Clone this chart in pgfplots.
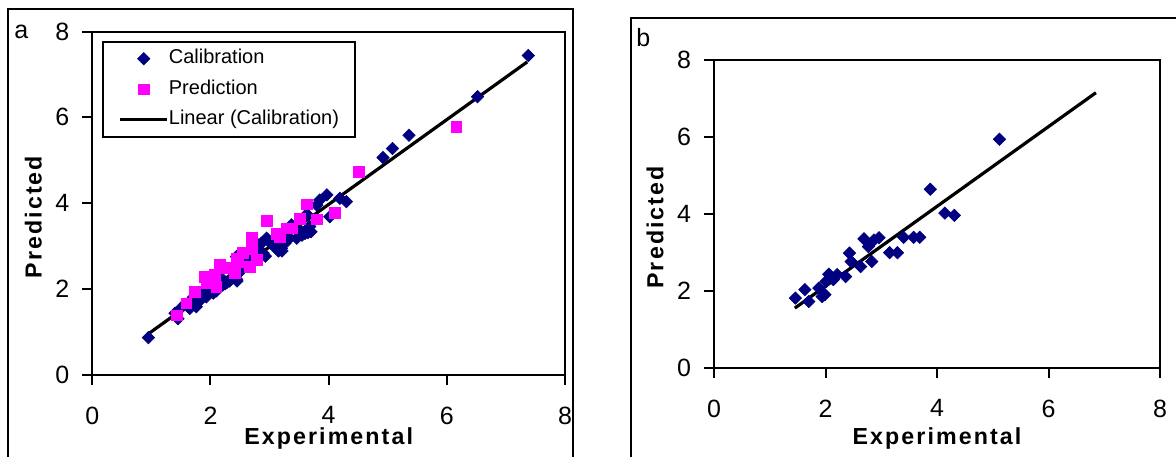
\documentclass[border=0pt]{standalone}
\usepackage{fontspec}
\setmainfont{Liberation Sans}
\usepackage{pgfplots}
\usepackage{pgfplotstable}
\pgfplotsset{compat=1.18}
\definecolor{navy}{RGB}{0,0,128}
\definecolor{mag}{RGB}{255,0,255}

\pgfplotstableread{
x y
0.95 0.86
1.45 1.30
1.40 1.43
1.50 1.55
1.57 1.64
1.65 1.54
1.71 1.80
1.76 1.58
1.82 1.72
1.85 1.88
1.93 1.81
1.99 1.97
2.00 2.02
2.05 1.90
2.10 1.95
2.16 2.28
2.21 2.09
2.25 2.12
2.28 2.15
2.32 2.18
2.33 2.20
2.38 2.51
2.41 2.44
2.44 2.22
2.44 2.75
2.45 2.18
2.50 2.40
2.50 2.75
2.55 2.63
2.61 2.67
2.62 2.55
2.67 2.75
2.72 2.62
2.75 3.10
2.78 2.90
2.86 3.06
2.89 2.83
2.93 2.76
2.95 3.18
3.00 3.10
3.05 3.02
3.12 3.06
3.15 2.88
3.20 2.94
3.21 2.88
3.26 3.06
3.34 3.18
3.34 3.37
3.37 3.49
3.46 3.18
3.54 3.33
3.55 3.25
3.60 3.29
3.63 3.37
3.65 3.31
3.68 3.45
3.70 3.33
3.63 3.74
3.80 3.95
3.85 4.07
3.97 4.19
4.02 3.68
4.19 4.11
4.30 4.03
4.92 5.06
5.08 5.27
5.36 5.58
6.52 6.48
7.38 7.44
}\calA

\pgfplotstableread{
x y
1.43 1.38
1.59 1.66
1.74 1.93
1.90 2.28
1.93 2.13
2.07 2.32
2.10 2.05
2.16 2.55
2.27 2.48
2.41 2.36
2.44 2.71
2.47 2.63
2.55 2.83
2.67 2.51
2.70 2.94
2.70 3.18
2.78 2.67
2.95 3.58
3.12 3.29
3.17 3.21
3.29 3.41
3.37 3.41
3.51 3.64
3.63 3.97
3.80 3.62
4.11 3.78
4.51 4.72
6.16 5.78
}\predA

\pgfplotstableread{
x y
1.46 1.81
1.63 2.03
1.70 1.72
1.88 2.07
1.94 1.85
1.99 1.90
2.01 2.24
2.06 2.43
2.14 2.29
2.21 2.42
2.36 2.37
2.43 2.98
2.46 2.76
2.63 2.63
2.69 3.35
2.77 3.15
2.83 2.76
2.87 3.32
2.96 3.38
3.15 2.99
3.29 2.99
3.40 3.39
3.58 3.39
3.69 3.39
3.88 4.64
4.14 4.02
4.31 3.96
5.12 5.94
}\calB

\newcommand\lblfont{\fontsize{11.6}{13}\selectfont\bfseries\addfontfeatures{LetterSpace=9}}

\pgfplotsset{
  myaxis/.style={
    scale only axis,
    xmin=0, xmax=8, ymin=0, ymax=8,
    xtick={0,2,4,6,8}, ytick={0,2,4,6,8},
    minor tick num=0,
    tick pos=left, tick align=outside,
    major tick length=5pt,
    axis line style={line width=1pt},
    major tick style={line width=1pt, black},
    ticklabel style={font=\fontsize{12.5}{14}\selectfont},
    /pgf/number format/assume math mode=true,
    xticklabel style={yshift=-7.5pt},
    yticklabel style={xshift=-3pt},
    xlabel={Experimental}, ylabel={Predicted},
    label style={font=\lblfont},
    clip=false,
  },
  calstyle/.style={only marks, mark=square*, mark size=2.2pt,
    mark options={rotate=45, fill=navy, draw=navy, line width=0.3pt},
    legend image code/.code={\draw[mark repeat=2,mark phase=2,##1] plot coordinates {(0pt,0pt) (11.75pt,0pt) (23.5pt,0pt)};}},
  predstyle/.style={only marks, mark=square*, mark size=2.7pt,
    mark options={fill=mag, draw=mag, line width=0.3pt},
    legend image code/.code={\draw[mark repeat=2,mark phase=2,##1] plot coordinates {(0pt,0pt) (11.75pt,0pt) (23.5pt,0pt)};}},
  linstyle/.style={black, line width=1.6pt, no marks,
    legend image code/.code={\draw[##1] (0pt,0pt) -- (23.5pt,0pt);}},
}

\begin{document}
\begin{tikzpicture}
\useasboundingbox (0,0) rectangle (588pt,228pt);
\clip (0,0) rectangle (588pt,228pt);
% panel frames
\draw[line width=1pt] (4.15pt,-5pt) -- (4.15pt,223.5pt) -- (286.7pt,223.5pt) -- (286.7pt,-5pt);
\draw[line width=1pt] (315.5pt,-5pt) -- (315.5pt,218.85pt) -- (600pt,218.85pt);
\node[anchor=base west, font=\fontsize{12.5}{14}\selectfont, inner sep=0pt] at (7pt,208.85pt) {a};
\node[anchor=base west, font=\fontsize{12.5}{14}\selectfont, inner sep=0pt] at (318pt,204.75pt) {b};

\begin{axis}[myaxis,
  at={(46.15pt,40.75pt)}, anchor=south west,
  width=236.35pt, height=171.5pt,
  xlabel style={at={(rel axis cs:0.5,0)}, anchor=base, yshift=-34.75pt},
  ylabel style={at={(rel axis cs:-0.1249,0.459)}, anchor=center},
  legend style={at={(0,1)}, anchor=north west, xshift=4.7pt, yshift=-4.6pt,
    draw=black, line width=1pt, inner xsep=8pt, inner ysep=3.5pt, row sep=5.25pt,
    font=\fontsize{10}{12}\selectfont,
    nodes={inner sep=0pt, text height=7.5pt, text depth=2.5pt},
    /tikz/every even column/.append style={column sep=2pt}},
  legend cell align=left,
]
\addplot[calstyle] table[x=x,y=y] {\calA};
\addlegendentry{Calibration}
\addplot[predstyle] table[x=x,y=y] {\predA};
\addlegendentry{Prediction}
\addplot[linstyle] coordinates {(0.93,0.93) (7.36,7.29)};
\addlegendentry{Linear (Calibration)}
\end{axis}

\begin{axis}[myaxis,
  at={(357pt,44.15pt)}, anchor=south west,
  width=223pt, height=153.85pt,
  xlabel style={at={(rel axis cs:0.5,0)}, anchor=base, yshift=-38.15pt},
  ylabel style={at={(rel axis cs:-0.1323,0.456)}, anchor=center},
]
\addplot[calstyle] table[x=x,y=y] {\calB};
\addplot[linstyle] coordinates {(1.45,1.55) (6.85,7.15)};
\end{axis}
\end{tikzpicture}
\end{document}
